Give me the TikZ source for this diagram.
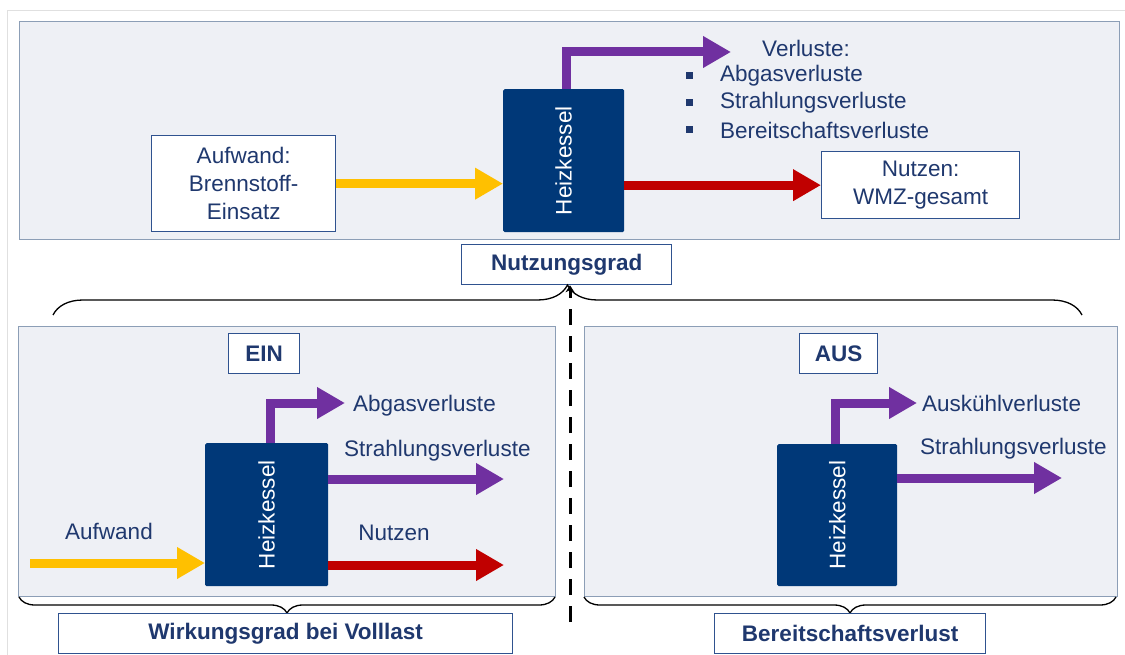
\documentclass[tikz,border=0pt]{standalone}
\usepackage{fontspec}
\setmainfont{Liberation Sans}
\usetikzlibrary{positioning,arrows.meta,decorations.pathreplacing}

\definecolor{txtblue}{RGB}{31,56,110}
\definecolor{boxline}{RGB}{47,82,143}
\definecolor{kessel}{RGB}{0,56,120}
\definecolor{panelfill}{RGB}{238,240,245}
\definecolor{panelline}{RGB}{140,158,182}
\definecolor{flowyellow}{RGB}{255,192,0}
\definecolor{flowred}{RGB}{192,0,0}
\definecolor{flowpurple}{RGB}{112,48,160}

\begin{document}
\begin{tikzpicture}[x=1pt,y=-1pt,
    every node/.style={font=\fontsize{22.5}{28}\selectfont, text=txtblue}]
    \tikzstyle{panel} = [rectangle, draw=panelline, fill=panelfill, line width=1pt,
        anchor=north west]
    \tikzstyle{whitebox} = [rectangle, draw=boxline, fill=white, line width=1.3pt,
        align=center, anchor=north west]
    \tikzstyle{kesselbox} = [rectangle, fill=kessel, rounded corners=1.5pt,
        text=white, anchor=north west, inner sep=0pt]
    \tikzstyle{lbl} = [inner sep=0pt]
    \tikzstyle{flow} = [draw, line width=9pt, -{Triangle[length=28pt,width=30pt]}]
    \tikzstyle{brace} = [draw, black, line width=1.3pt,
        decorate, decoration={brace}]
    \tikzstyle{dashline} = [draw, black, line width=3pt, dash pattern=on 16pt off 11pt,
        -{Stealth[length=7pt,width=9pt]}]

    \useasboundingbox (0,0) rectangle (1125,655);
    \draw[black!12] (7,655) -- (7,10) -- (1125,10);

    % Nutzungsgrad (oben)
    \node[panel, minimum width=1100, minimum height=218] (toppanel) at (19,21) {};
    \node[whitebox, minimum width=184, minimum height=96] (aufwandbox) at (151,135)
        {Aufwand:\\Brennstoff-\\Einsatz};
    \node[kesselbox, minimum width=121, minimum height=143] (kesselA) at (503,89)
        {\rotatebox{90}{Heizkessel}};
    \node[whitebox, minimum width=198, minimum height=67] (nutzenbox) at (821,151)
        {Nutzen:\\WMZ-gesamt};
    \node[lbl] (verluste) at (806,48) {Verluste:};
    \foreach \txt [count=\i] in {Abgasverluste,Strahlungsverluste,Bereitschaftsverluste} {
        \node[lbl, anchor=west] (verl\i) at (720,49+27*\i) {\txt};
        \node[fill=txtblue, inner sep=0pt, minimum size=7pt, left=27pt of verl\i] {};
    }
    \coordinate (verlusttip) at (731,52);
    \draw[flow, flowyellow] (aufwandbox.east) -- (aufwandbox.east -| kesselA.west);
    \draw[flow, flowred] (nutzenbox.west -| kesselA.east) -- (nutzenbox.west);
    \draw[flow, flowpurple] ([xshift=3pt]kesselA.north) |- (verlusttip);
    \node[whitebox, minimum width=210, minimum height=40, font=\fontsize{22.5}{28}\selectfont\bfseries]
        (ngrad) at (461,244) {Nutzungsgrad};

    % EIN
    \node[panel, minimum width=537, minimum height=270] (einpanel) at (18,326) {};
    \node[whitebox, minimum width=71, minimum height=40, font=\fontsize{22.5}{28}\selectfont\bfseries]
        (ein) at (228,333) {EIN};
    \node[kesselbox, minimum width=123, minimum height=143] (kesselB) at (205,443)
        {\rotatebox{90}{Heizkessel}};
    \coordinate (abgastip) at (345,403);
    \coordinate (aufstart) at (30,563);
    \coordinate (strahltipB) at (504,479);
    \coordinate (nutzentip) at (504,565);
    \draw[flow, flowpurple] ([xshift=4pt]kesselB.north) |- (abgastip);
    \draw[flow, flowyellow] (aufstart) -- (aufstart -| kesselB.west);
    \draw[flow, flowpurple] (strahltipB -| kesselB.east) -- (strahltipB);
    \draw[flow, flowred] (nutzentip -| kesselB.east) -- (nutzentip);
    \node[lbl, anchor=west] (abgasB) at (353,406) {Abgasverluste};
    \node[lbl, anchor=west] (strahlB) at (344,451) {Strahlungsverluste};
    \node[lbl] (aufwandB) at (109,531) {Aufwand};
    \node[lbl] (nutzenB) at (394,533) {Nutzen};

    % AUS
    \node[panel, minimum width=533, minimum height=270] (auspanel) at (584,326) {};
    \node[whitebox, minimum width=78, minimum height=40, font=\fontsize{22.5}{28}\selectfont\bfseries]
        (aus) at (799,333) {AUS};
    \node[kesselbox, minimum width=120, minimum height=142] (kesselC) at (777,444)
        {\rotatebox{90}{Heizkessel}};
    \coordinate (auskuehltip) at (917,403);
    \coordinate (strahltipC) at (1062,478);
    \draw[flow, flowpurple] ([xshift=-2pt]kesselC.north) |- (auskuehltip);
    \draw[flow, flowpurple] (strahltipC -| kesselC.east) -- (strahltipC);
    \node[lbl, anchor=west] (auskuehlC) at (922,403) {Auskühlverluste};
    \node[lbl, anchor=west] (strahlC) at (920,449) {Strahlungsverluste};

    % Klammern
    \draw[brace, decoration={amplitude=30pt}] (53,315) -- (1082,315);
    \draw[brace, decoration={amplitude=16pt}] (555,597) -- (19,597);
    \draw[brace, decoration={amplitude=16pt}] (1116,597) -- (584,597);
    \node[whitebox, minimum width=454, minimum height=40, font=\fontsize{22.5}{28}\selectfont\bfseries]
        (wgrad) at (58,613) {Wirkungsgrad bei Volllast};
    \node[whitebox, minimum width=271, minimum height=40, font=\fontsize{22.5}{28}\selectfont\bfseries]
        (bverlust) at (714,613) {Bereitschaftsverlust};

    % Trennlinie
    \coordinate (dashend) at (570,622);
    \draw[dashline] (dashend) -- (dashend |- ngrad.south);
\end{tikzpicture}
\end{document}
